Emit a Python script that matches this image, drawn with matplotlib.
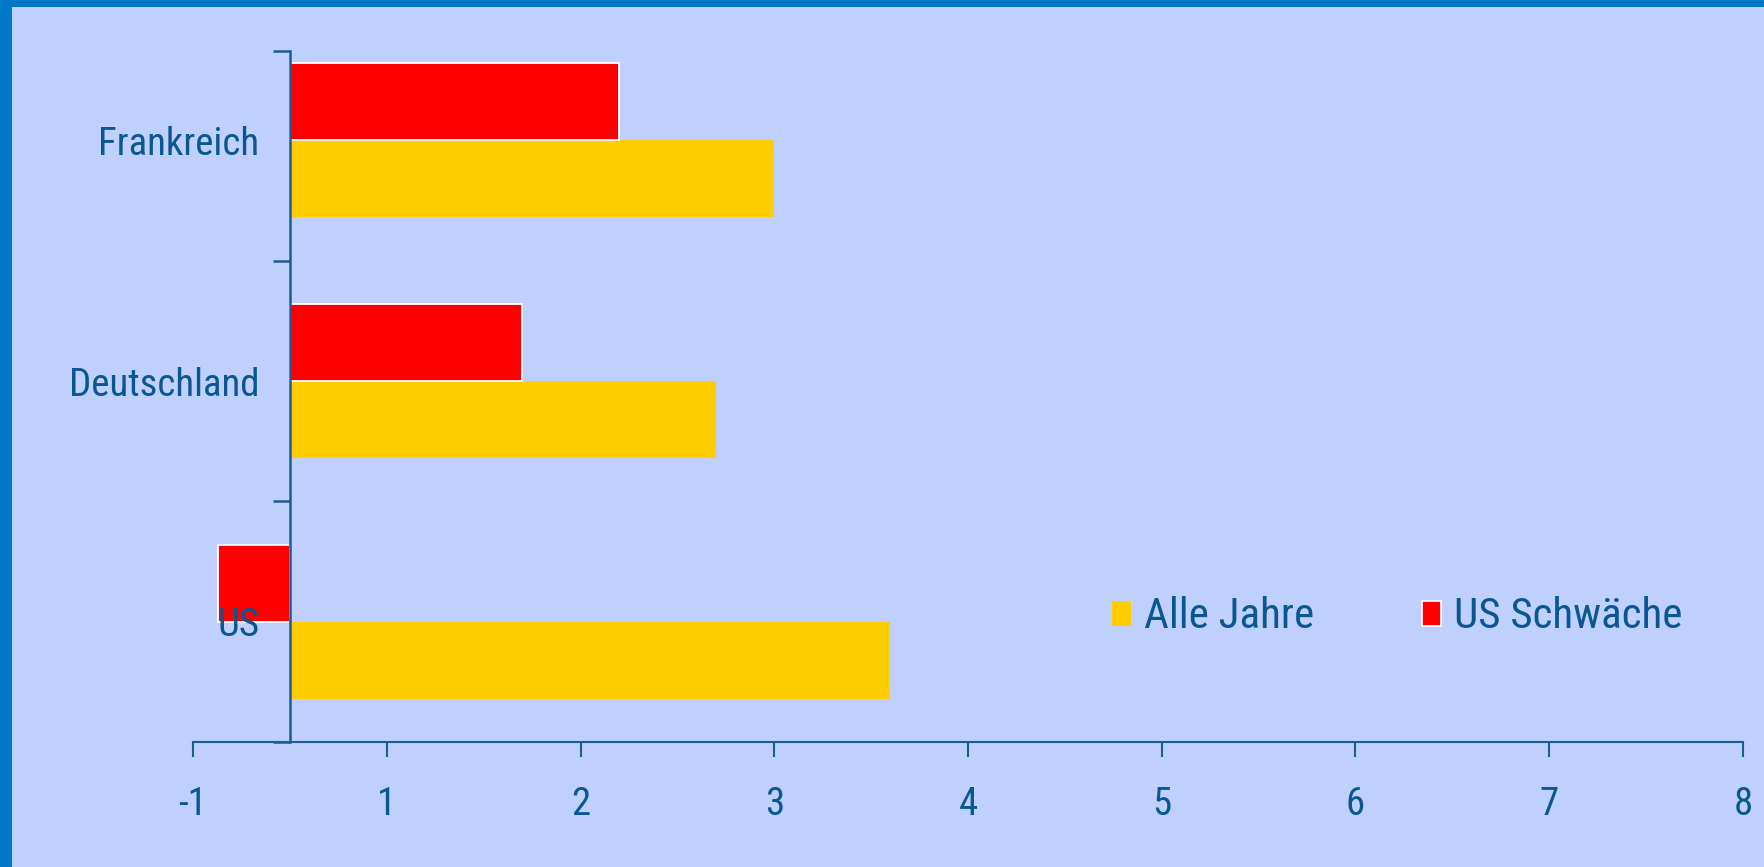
import matplotlib
matplotlib.use("Agg")
import matplotlib.pyplot as plt
from matplotlib.patches import Patch, Rectangle

# Werte je Land (Achsenposition des Balkenendes), Basislinie liegt bei 0.5
laender = ["US", "Deutschland", "Frankreich"]
alle_jahre = [3.6, 2.7, 3.0]
us_schwaeche = [0.13, 1.7, 2.2]
basis = 0.5

tick_pos = [0, 1, 2, 3, 4, 5, 6, 7, 8]
tick_labels = ["-1", "1", "2", "3", "4", "5", "6", "7", "8"]

# Farben
bg = "#BFD0FF"
rand = "#0077C8"
textfarbe = "#0A5690"
achse = "#1B5C94"
gelb = "#FFCC00"
rot = "#FF0000"

plt.rcParams["font.family"] = ["Roboto Condensed", "DejaVu Sans"]
plt.rcParams["font.stretch"] = "condensed"

W, H = 1765, 867
fig = plt.figure(figsize=(W / 100, H / 100), dpi=100)
fig.patch.set_facecolor(bg)

# blauer Rand links und oben
fig.add_artist(Rectangle((0, 0), 12 / W, 1, transform=fig.transFigure,
                         facecolor=rand, edgecolor="none"))
fig.add_artist(Rectangle((0, 1 - 7 / H), 1, 7 / H, transform=fig.transFigure,
                         facecolor=rand, edgecolor="none"))

x0, x1 = 193, 1743
y_bot, y_top = 742, 20
ax = fig.add_axes([x0 / W, (H - y_bot) / H, (x1 - x0) / W, (y_bot - y_top) / H])
ax.set_facecolor("none")
ax.set_axisbelow(False)

y = list(range(len(laender)))
h = 0.32
ax.barh([v - h / 2 for v in y], [a - basis for a in alle_jahre], height=h,
        left=basis, color=gelb, edgecolor="none", zorder=2)
ax.barh([v + h / 2 for v in y], [r - basis for r in us_schwaeche], height=h,
        left=basis, color=rot, edgecolor="white", linewidth=1.3, zorder=2)

ax.set_xlim(0, 8)
ax.set_ylim(-0.5, 2.5)

# Spines
for s in ["top", "right"]:
    ax.spines[s].set_visible(False)
ax.spines["bottom"].set_color(achse)
ax.spines["bottom"].set_linewidth(1.5)
ax.spines["left"].set_color(achse)
ax.spines["left"].set_linewidth(1.8)
ax.spines["left"].set_position(("data", basis))
spine_top = 2.5 - (51 - y_top) / ((y_bot - y_top) / 3)
ax.spines["left"].set_bounds(-0.5, spine_top)
ax.spines["left"].set_zorder(3)

ax.set_xticks(tick_pos)
ax.set_xticklabels(tick_labels)
ax.tick_params(axis="x", direction="out", length=11, width=1.5, color=achse,
               labelcolor=textfarbe, labelsize=28, pad=21)

ax.set_yticks([-0.5, 0.5, 1.5, spine_top])
ax.set_yticklabels([])
ax.tick_params(axis="y", which="major", direction="out", length=12, width=1.8,
               color=achse)
ax.set_yticks(y, minor=True)
ax.set_yticklabels(laender, minor=True)
ax.tick_params(axis="y", which="minor", length=0, labelcolor=textfarbe,
               labelsize=28, pad=22)

handles = [Patch(facecolor=gelb, edgecolor="none"),
           Patch(facecolor=rot, edgecolor="white", linewidth=1.2)]
leg = fig.legend(handles, ["Alle Jahre", "US Schwäche"], ncol=2, frameon=False,
                 loc="center left", bbox_to_anchor=(1112 / W, (H - 617) / H),
                 fontsize=31, labelcolor=textfarbe, handlelength=0.45,
                 handleheight=0.52, handletextpad=0.3, columnspacing=2.5,
                 borderpad=0, borderaxespad=0)

fig.savefig("out.png", dpi=100, facecolor=bg)
